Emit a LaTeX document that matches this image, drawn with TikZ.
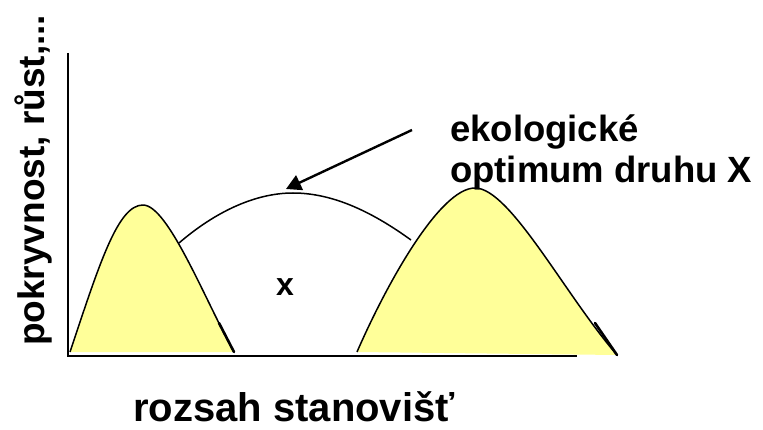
\documentclass[tikz,border=0pt]{standalone}
\usepackage{fontspec}
\setmainfont{Liberation Sans}
\usetikzlibrary{arrows.meta}
\definecolor{bumpfill}{HTML}{FFFF99}
\begin{document}
\begin{tikzpicture}[x=1pt,y=-1pt,
  lbl/.style={inner sep=0pt, font=\bfseries},
  curve/.style={line width=1.5pt, line join=round},
  axis/.style={line width=2pt},
  heavy/.style={line width=2.6pt, line cap=round},
  pointer/.style={line width=2.4pt, -{Triangle[length=15pt,width=16pt]}}]
\useasboundingbox (0,0) rectangle (763,430);

% left bump
\coordinate (L0) at (70,352);
\coordinate (Lp) at (143,205);
\coordinate (L1) at (234,352);
\fill[bumpfill] (L0) .. controls (100,262) and (118,205) .. (Lp)
  .. controls (168,205) and (205,300) .. (L1) -- cycle;
\draw[curve] (L0) .. controls (100,262) and (118,205) .. (Lp)
  .. controls (168,205) and (205,300) .. (L1);
\coordinate (La) at (219,323);
\draw[heavy] (La) -- (L1);

% right bump
\coordinate (R0) at (357,352);
\coordinate (Rp) at (475,188);
\coordinate (R1) at (617,355);
\fill[bumpfill] (R0) .. controls (387,283) and (440,188) .. (Rp)
  .. controls (510,188) and (565,295) .. (R1) -- cycle;
\draw[curve] (R0) .. controls (387,283) and (440,188) .. (Rp)
  .. controls (510,188) and (565,295) .. (R1);
\coordinate (Ra) at (595,323);
\draw[heavy] (Ra) -- (R1);

% middle arc
\coordinate (M0) at (179,243);
\coordinate (Mp) at (293,193);
\coordinate (M1) at (411,240);
\draw[curve] (M0) .. controls (215,212) and (255,193) .. (Mp)
  .. controls (335,193) and (375,214) .. (M1);

% axes
\coordinate (O) at (68,356);
\coordinate (Ytop) at (68,53);
\coordinate (Xend) at (577,356);
\draw[axis] (Ytop) -- (O) -- (Xend);

% arrow
\coordinate (Astart) at (412,130);
\coordinate (Atip) at (286,189);
\draw[pointer] (Astart) -- (Atip);

% labels
\node[lbl, anchor=base west] (eko) at (450,142)
  {\fontsize{36.5}{36.5}\selectfont ekologické};
\node[lbl, anchor=base west] (opt) at (450,183)
  {\fontsize{36.5}{36.5}\selectfont optimum druhu X};
\node[lbl, anchor=base] (xlab) at (285,296)
  {\fontsize{32}{32}\selectfont x};
\node[lbl, anchor=base west] (rozsah) at (133,421)
  {\fontsize{40}{40}\selectfont rozsah stanovišť};
\node[lbl, rotate=90, anchor=base west] (ylab) at (44,346)
  {\fontsize{37}{37}\selectfont pokryvnost, růst,...};
\end{tikzpicture}
\end{document}
